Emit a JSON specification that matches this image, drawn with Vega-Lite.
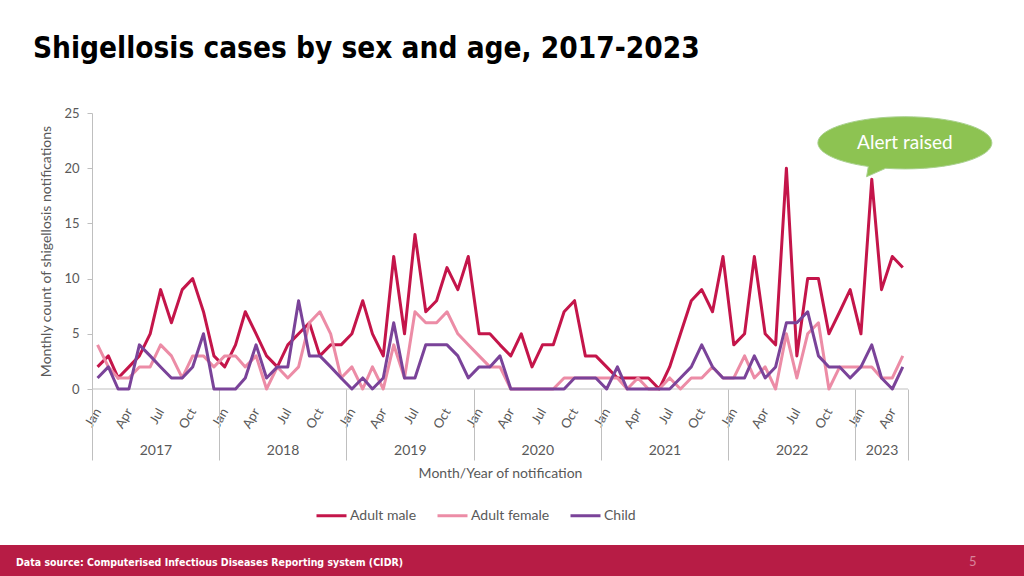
{
  "$schema": "https://vega.github.io/schema/vega-lite/v6.json",
  "background": "white",
  "padding": {"top": 33, "left": 0, "right": 0, "bottom": 0},
  "spacing": 65,
  "config": {
    "view": {"stroke": null},
    "axis": {"labelFont": "Lato", "titleFont": "Lato", "labelColor": "#595959", "titleColor": "#595959", "domainColor": "#bfbfbf", "tickColor": "#bfbfbf", "grid": false, "titleFontWeight": "normal"},
    "legend": {"labelFont": "Lato"},
    "text": {"font": "Lato"}
  },
  "vconcat": [
    {
      "width": 908,
      "height": 276,
      "title": {"text": "Shigellosis cases by sex and age, 2017-2023", "anchor": "start", "frame": "group", "dx": 33, "offset": 20, "baseline": "alphabetic", "font": "DejaVu Sans Condensed, Roboto, sans-serif", "fontSize": 29.5, "fontWeight": "bold", "color": "#000000"},
      "data": {"values": [
        {"month": "2017-01-01", "Adult male": 2, "Adult female": 4, "Child": 1},
        {"month": "2017-02-01", "Adult male": 3, "Adult female": 2, "Child": 2},
        {"month": "2017-03-01", "Adult male": 1, "Adult female": 1, "Child": 0},
        {"month": "2017-04-01", "Adult male": 2, "Adult female": 1, "Child": 0},
        {"month": "2017-05-01", "Adult male": 3, "Adult female": 2, "Child": 4},
        {"month": "2017-06-01", "Adult male": 5, "Adult female": 2, "Child": 3},
        {"month": "2017-07-01", "Adult male": 9, "Adult female": 4, "Child": 2},
        {"month": "2017-08-01", "Adult male": 6, "Adult female": 3, "Child": 1},
        {"month": "2017-09-01", "Adult male": 9, "Adult female": 1, "Child": 1},
        {"month": "2017-10-01", "Adult male": 10, "Adult female": 3, "Child": 2},
        {"month": "2017-11-01", "Adult male": 7, "Adult female": 3, "Child": 5},
        {"month": "2017-12-01", "Adult male": 3, "Adult female": 2, "Child": 0},
        {"month": "2018-01-01", "Adult male": 2, "Adult female": 3, "Child": 0},
        {"month": "2018-02-01", "Adult male": 4, "Adult female": 3, "Child": 0},
        {"month": "2018-03-01", "Adult male": 7, "Adult female": 2, "Child": 1},
        {"month": "2018-04-01", "Adult male": 5, "Adult female": 3, "Child": 4},
        {"month": "2018-05-01", "Adult male": 3, "Adult female": 0, "Child": 1},
        {"month": "2018-06-01", "Adult male": 2, "Adult female": 2, "Child": 2},
        {"month": "2018-07-01", "Adult male": 4, "Adult female": 1, "Child": 2},
        {"month": "2018-08-01", "Adult male": 5, "Adult female": 2, "Child": 8},
        {"month": "2018-09-01", "Adult male": 6, "Adult female": 6, "Child": 3},
        {"month": "2018-10-01", "Adult male": 3, "Adult female": 7, "Child": 3},
        {"month": "2018-11-01", "Adult male": 4, "Adult female": 5, "Child": 2},
        {"month": "2018-12-01", "Adult male": 4, "Adult female": 1, "Child": 1},
        {"month": "2019-01-01", "Adult male": 5, "Adult female": 2, "Child": 0},
        {"month": "2019-02-01", "Adult male": 8, "Adult female": 0, "Child": 1},
        {"month": "2019-03-01", "Adult male": 5, "Adult female": 2, "Child": 0},
        {"month": "2019-04-01", "Adult male": 3, "Adult female": 0, "Child": 1},
        {"month": "2019-05-01", "Adult male": 12, "Adult female": 4, "Child": 6},
        {"month": "2019-06-01", "Adult male": 5, "Adult female": 1, "Child": 1},
        {"month": "2019-07-01", "Adult male": 14, "Adult female": 7, "Child": 1},
        {"month": "2019-08-01", "Adult male": 7, "Adult female": 6, "Child": 4},
        {"month": "2019-09-01", "Adult male": 8, "Adult female": 6, "Child": 4},
        {"month": "2019-10-01", "Adult male": 11, "Adult female": 7, "Child": 4},
        {"month": "2019-11-01", "Adult male": 9, "Adult female": 5, "Child": 3},
        {"month": "2019-12-01", "Adult male": 12, "Adult female": 4, "Child": 1},
        {"month": "2020-01-01", "Adult male": 5, "Adult female": 3, "Child": 2},
        {"month": "2020-02-01", "Adult male": 5, "Adult female": 2, "Child": 2},
        {"month": "2020-03-01", "Adult male": 4, "Adult female": 2, "Child": 3},
        {"month": "2020-04-01", "Adult male": 3, "Adult female": 0, "Child": 0},
        {"month": "2020-05-01", "Adult male": 5, "Adult female": 0, "Child": 0},
        {"month": "2020-06-01", "Adult male": 2, "Adult female": 0, "Child": 0},
        {"month": "2020-07-01", "Adult male": 4, "Adult female": 0, "Child": 0},
        {"month": "2020-08-01", "Adult male": 4, "Adult female": 0, "Child": 0},
        {"month": "2020-09-01", "Adult male": 7, "Adult female": 1, "Child": 0},
        {"month": "2020-10-01", "Adult male": 8, "Adult female": 1, "Child": 1},
        {"month": "2020-11-01", "Adult male": 3, "Adult female": 1, "Child": 1},
        {"month": "2020-12-01", "Adult male": 3, "Adult female": 1, "Child": 1},
        {"month": "2021-01-01", "Adult male": 2, "Adult female": 1, "Child": 0},
        {"month": "2021-02-01", "Adult male": 1, "Adult female": 1, "Child": 2},
        {"month": "2021-03-01", "Adult male": 1, "Adult female": 0, "Child": 0},
        {"month": "2021-04-01", "Adult male": 1, "Adult female": 1, "Child": 0},
        {"month": "2021-05-01", "Adult male": 1, "Adult female": 0, "Child": 0},
        {"month": "2021-06-01", "Adult male": 0, "Adult female": 0, "Child": 0},
        {"month": "2021-07-01", "Adult male": 2, "Adult female": 1, "Child": 0},
        {"month": "2021-08-01", "Adult male": 5, "Adult female": 0, "Child": 1},
        {"month": "2021-09-01", "Adult male": 8, "Adult female": 1, "Child": 2},
        {"month": "2021-10-01", "Adult male": 9, "Adult female": 1, "Child": 4},
        {"month": "2021-11-01", "Adult male": 7, "Adult female": 2, "Child": 2},
        {"month": "2021-12-01", "Adult male": 12, "Adult female": 1, "Child": 1},
        {"month": "2022-01-01", "Adult male": 4, "Adult female": 1, "Child": 1},
        {"month": "2022-02-01", "Adult male": 5, "Adult female": 3, "Child": 1},
        {"month": "2022-03-01", "Adult male": 12, "Adult female": 1, "Child": 3},
        {"month": "2022-04-01", "Adult male": 5, "Adult female": 2, "Child": 1},
        {"month": "2022-05-01", "Adult male": 4, "Adult female": 0, "Child": 2},
        {"month": "2022-06-01", "Adult male": 20, "Adult female": 5, "Child": 6},
        {"month": "2022-07-01", "Adult male": 3, "Adult female": 1, "Child": 6},
        {"month": "2022-08-01", "Adult male": 10, "Adult female": 5, "Child": 7},
        {"month": "2022-09-01", "Adult male": 10, "Adult female": 6, "Child": 3},
        {"month": "2022-10-01", "Adult male": 5, "Adult female": 0, "Child": 2},
        {"month": "2022-11-01", "Adult male": 7, "Adult female": 2, "Child": 2},
        {"month": "2022-12-01", "Adult male": 9, "Adult female": 2, "Child": 1},
        {"month": "2023-01-01", "Adult male": 5, "Adult female": 2, "Child": 2},
        {"month": "2023-02-01", "Adult male": 19, "Adult female": 2, "Child": 4},
        {"month": "2023-03-01", "Adult male": 9, "Adult female": 1, "Child": 1},
        {"month": "2023-04-01", "Adult male": 12, "Adult female": 1, "Child": 0},
        {"month": "2023-05-01", "Adult male": 11, "Adult female": 3, "Child": 2}
      ]},
      "resolve": {"axis": {"x": "independent"}},
      "layer": [
        {
          "data": {"values": [{}]},
          "mark": {"type": "rule", "color": "#bfbfbf", "strokeWidth": 1},
          "encoding": {
            "x": {"datum": {"year": 2016, "month": 12, "date": 16, "utc": true}, "type": "temporal", "axis": null},
            "x2": {"datum": {"year": 2023, "month": 5, "date": 16, "utc": true}},
            "y": {"datum": 0, "type": "quantitative"}
          }
        },
        {
          "transform": [{"fold": ["Adult male", "Adult female", "Child"], "as": ["group", "count"]}],
          "mark": {"type": "line", "strokeWidth": 3, "strokeJoin": "round"},
          "encoding": {
            "x": {
              "field": "month", "type": "temporal",
              "scale": {"type": "utc", "domain": [{"year": 2016, "month": 3, "date": 27, "utc": true}, {"year": 2023, "month": 5, "date": 16, "utc": true}]},
              "axis": {
                "orient": "bottom", "title": null, "domain": false, "ticks": false, "format": "%b", "labelAngle": 300, "labelPadding": 20, "labelFontSize": 13,
                "values": [
                  {"year": 2017, "month": 1, "date": 1, "utc": true}, {"year": 2017, "month": 4, "date": 1, "utc": true}, {"year": 2017, "month": 7, "date": 1, "utc": true}, {"year": 2017, "month": 10, "date": 1, "utc": true},
                  {"year": 2018, "month": 1, "date": 1, "utc": true}, {"year": 2018, "month": 4, "date": 1, "utc": true}, {"year": 2018, "month": 7, "date": 1, "utc": true}, {"year": 2018, "month": 10, "date": 1, "utc": true},
                  {"year": 2019, "month": 1, "date": 1, "utc": true}, {"year": 2019, "month": 4, "date": 1, "utc": true}, {"year": 2019, "month": 7, "date": 1, "utc": true}, {"year": 2019, "month": 10, "date": 1, "utc": true},
                  {"year": 2020, "month": 1, "date": 1, "utc": true}, {"year": 2020, "month": 4, "date": 1, "utc": true}, {"year": 2020, "month": 7, "date": 1, "utc": true}, {"year": 2020, "month": 10, "date": 1, "utc": true},
                  {"year": 2021, "month": 1, "date": 1, "utc": true}, {"year": 2021, "month": 4, "date": 1, "utc": true}, {"year": 2021, "month": 7, "date": 1, "utc": true}, {"year": 2021, "month": 10, "date": 1, "utc": true},
                  {"year": 2022, "month": 1, "date": 1, "utc": true}, {"year": 2022, "month": 4, "date": 1, "utc": true}, {"year": 2022, "month": 7, "date": 1, "utc": true}, {"year": 2022, "month": 10, "date": 1, "utc": true},
                  {"year": 2023, "month": 1, "date": 1, "utc": true}, {"year": 2023, "month": 4, "date": 1, "utc": true}
                ]
              }
            },
            "y": {
              "field": "count", "type": "quantitative",
              "scale": {"domain": [0, 25], "nice": false},
              "axis": {"title": "Monthly count of shigellosis notifications", "values": [0, 5, 10, 15, 20, 25], "offset": -92, "tickSize": 5, "labelPadding": 8, "labelFontSize": 13, "titleFontSize": 14, "titlePadding": 10}
            },
            "color": {
              "field": "group", "type": "nominal",
              "scale": {"domain": ["Adult male", "Adult female", "Child"], "range": ["#c4154a", "#ec8ca6", "#7a4399"]},
              "legend": {"orient": "none", "legendX": 315, "legendY": 386, "direction": "horizontal", "title": null, "symbolType": "stroke", "symbolStrokeWidth": 3, "symbolSize": 900, "labelFontSize": 14, "labelColor": "#595959", "columnPadding": 14, "labelOffset": 2}
            }
          }
        },
        {
          "mark": {"type": "point", "opacity": 0},
          "encoding": {
            "x": {
              "field": "month", "type": "temporal",
              "axis": {
                "orient": "bottom", "title": null, "labels": false, "domain": false, "ticks": true, "tickSize": 71, "tickColor": "#bfbfbf",
                "values": [
                  {"year": 2016, "month": 12, "date": 16, "utc": true}, {"year": 2017, "month": 12, "date": 16, "utc": true}, {"year": 2018, "month": 12, "date": 16, "utc": true},
                  {"year": 2019, "month": 12, "date": 16, "utc": true}, {"year": 2020, "month": 12, "date": 16, "utc": true}, {"year": 2021, "month": 12, "date": 16, "utc": true},
                  {"year": 2022, "month": 12, "date": 16, "utc": true}, {"year": 2023, "month": 5, "date": 16, "utc": true}
                ]
              }
            },
            "y": {"datum": 0, "type": "quantitative"}
          }
        },
        {
          "mark": {"type": "point", "opacity": 0},
          "encoding": {
            "x": {
              "field": "month", "type": "temporal",
              "axis": {
                "orient": "bottom", "title": "Month/Year of notification", "titleX": 500, "titleFontSize": 14, "titlePadding": 9,
                "domain": false, "ticks": false, "format": "%Y", "labelPadding": 54, "labelFontSize": 14, "labelAngle": 0,
                "values": [
                  {"year": 2017, "month": 6, "date": 16, "utc": true}, {"year": 2018, "month": 6, "date": 16, "utc": true}, {"year": 2019, "month": 6, "date": 16, "utc": true},
                  {"year": 2020, "month": 6, "date": 16, "utc": true}, {"year": 2021, "month": 6, "date": 16, "utc": true}, {"year": 2022, "month": 6, "date": 16, "utc": true},
                  {"year": 2023, "month": 3, "date": 1, "utc": true}
                ]
              }
            },
            "y": {"datum": 0, "type": "quantitative"}
          }
        },
        {
          "data": {"values": [{"note": "Alert raised"}]},
          "mark": {"type": "point", "filled": true, "fill": "#8dc352", "stroke": "#a9d18e", "strokeWidth": 1, "opacity": 1, "size": 30276,
            "shape": "M-1,0 A1,0.3 0 0 1 1,0 A1,0.3 0 0 1 -0.22,0.293 L-0.44,0.39 L-0.42,0.272 A1,0.3 0 0 1 -1,0 Z"},
          "encoding": {
            "x": {"datum": {"year": 2023, "month": 5, "date": 7, "utc": true}, "type": "temporal", "axis": null},
            "y": {"datum": 22.3, "type": "quantitative"}
          }
        },
        {
          "data": {"values": [{"note": "Alert raised"}]},
          "mark": {"type": "text", "color": "white", "fontSize": 19, "align": "center", "baseline": "middle"},
          "encoding": {
            "x": {"datum": {"year": 2023, "month": 5, "date": 7, "utc": true}, "type": "temporal", "axis": null},
            "y": {"datum": 22.3, "type": "quantitative"},
            "text": {"field": "note"}
          }
        }
      ]
    },
    {
      "width": 1024, "height": 33,
      "view": {"fill": "#b71c45", "stroke": null},
      "title": {"text": "Data source: Computerised Infectious Diseases Reporting system (CIDR)", "anchor": "start", "frame": "group", "dx": 16, "offset": -31.5, "baseline": "alphabetic", "color": "white", "fontSize": 10.5, "font": "DejaVu Sans Condensed, Roboto, sans-serif", "fontWeight": "bold"},
      "data": {"values": [{"page": "5"}]},
      "mark": {"type": "text", "color": "#d9849b", "fontSize": 13},
      "encoding": {
        "x": {"datum": 0.95, "type": "quantitative", "scale": {"domain": [0, 1]}, "axis": null},
        "y": {"datum": 0.5, "type": "quantitative", "scale": {"domain": [0, 1]}, "axis": null},
        "text": {"field": "page"}
      }
    }
  ]
}
